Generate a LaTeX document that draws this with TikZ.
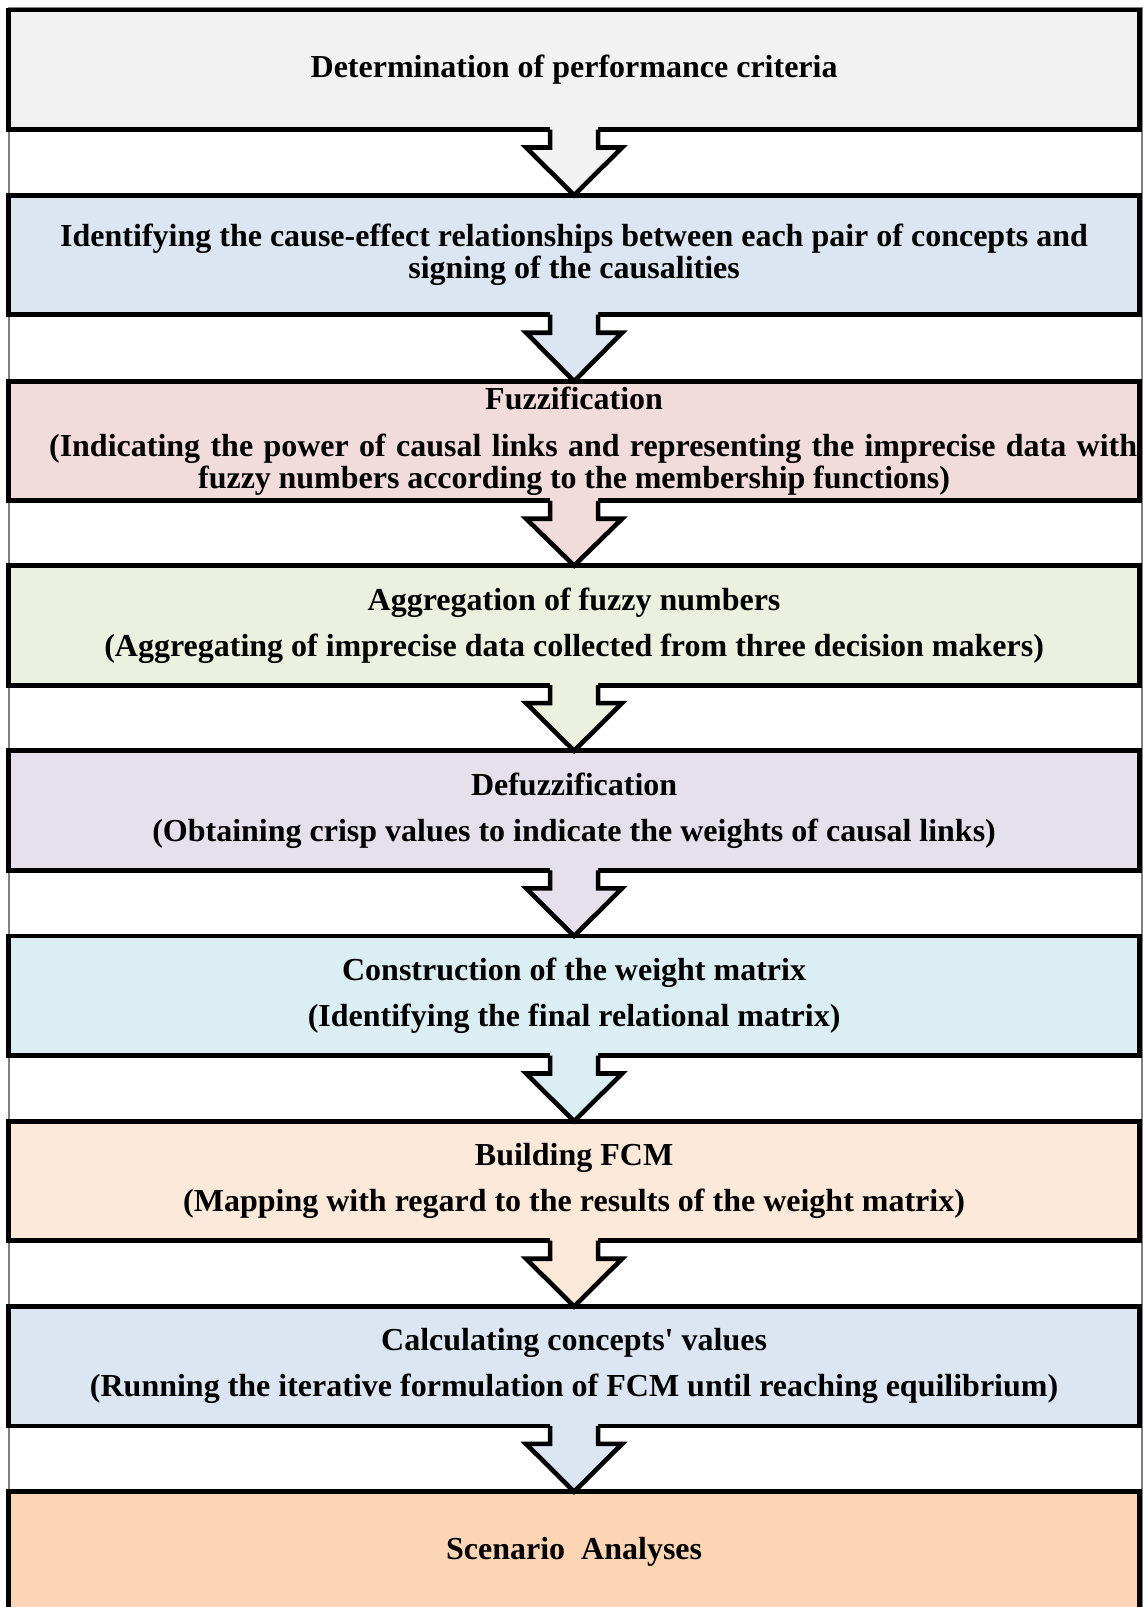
\documentclass[tikz,border=0pt]{standalone}
\usepackage{fontspec}
\setmainfont{Liberation Serif}
\usetikzlibrary{calc}
\definecolor{c1}{HTML}{F2F2F2}
\definecolor{c2}{HTML}{DCE6F2}
\definecolor{c3}{HTML}{F2DCDB}
\definecolor{c4}{HTML}{EBF1DE}
\definecolor{c5}{HTML}{E6E0EC}
\definecolor{c6}{HTML}{DBEEF4}
\definecolor{c7}{HTML}{FDE9D9}
\definecolor{c8}{HTML}{DCE6F2}
\definecolor{c9}{HTML}{FCD5B5}
\definecolor{framegray}{HTML}{808080}
\begin{document}
\begin{tikzpicture}[x=0.5pt,y=-0.5pt,
  stage/.style={draw=black, line width=2.4pt, minimum width=565.4pt, minimum height=59.75pt,
    inner sep=0pt, outer sep=0pt, align=center,
    font=\fontsize{16pt}{16pt}\selectfont\bfseries},
  flowarrow/.style={draw=black, line width=2.3pt, line join=miter}]
\path[use as bounding box] (0,0) rectangle (1143,1607);
\clip (0,0) rectangle (1143,1607);
\draw[framegray, line width=1pt] (8.5,8) rectangle (1142,1620);
\node[stage, fill=c1] (b1) at (574.1,69.75) {Determination of performance criteria};
\node[stage, fill=c2] (b2) at (574.1,254.95) {Identifying the cause-effect relationships between each pair of concepts and\\ signing of the causalities};
\node[stage, fill=c3] (b3) at (574.1,441) {Fuzzification\\[7.5pt] \hspace*{19pt}\makebox[544pt][s]{(Indicating the power of causal links and representing the imprecise data with}\\ \makebox[376pt][s]{fuzzy numbers according to the membership functions)}};
\node[stage, fill=c4] (b4) at (574.1,625.35) {Aggregation of fuzzy numbers\\[7pt] (Aggregating of imprecise data collected from three decision makers)};
\node[stage, fill=c5] (b5) at (574.1,810.55) {Defuzzification\\[7pt] (Obtaining crisp values to indicate the weights of causal links)};
\node[stage, fill=c6] (b6) at (574.1,995.75) {Construction of the weight matrix\\[7pt] (Identifying the final relational matrix)};
\node[stage, fill=c7] (b7) at (574.1,1180.95) {Building FCM\\[7pt] (Mapping with regard to the results of the weight matrix)};
\node[stage, fill=c8] (b8) at (574.1,1366.15) {Calculating concepts\textquotesingle{} values\\[7pt] (Running the iterative formulation of FCM until reaching equilibrium)};
\node[stage, fill=c9] (b9) at (574.1,1551.35) {Scenario\ \ Analyses};
\foreach \a/\b/\c in {b1/b2/c1, b2/b3/c2, b3/b4/c3, b4/b5/c4, b5/b6/c5, b6/b7/c6, b7/b8/c7, b8/b9/c8} {
  \fill[fill=\c] ($(\a.south)+(-24,-4)$) -- ($(\a.south)+(-24,18)$) -- ($(\a.south)+(-48,18)$)
     -- (\b.north) -- ($(\a.south)+(48,18)$) -- ($(\a.south)+(24,18)$) -- ($(\a.south)+(24,-4)$) -- cycle;
  \draw[flowarrow] ($(\a.south)+(-24,0)$) -- ($(\a.south)+(-24,18)$) -- ($(\a.south)+(-48,18)$)
     -- (\b.north) -- ($(\a.south)+(48,18)$) -- ($(\a.south)+(24,18)$) -- ($(\a.south)+(24,0)$);
}
\end{tikzpicture}
\end{document}
